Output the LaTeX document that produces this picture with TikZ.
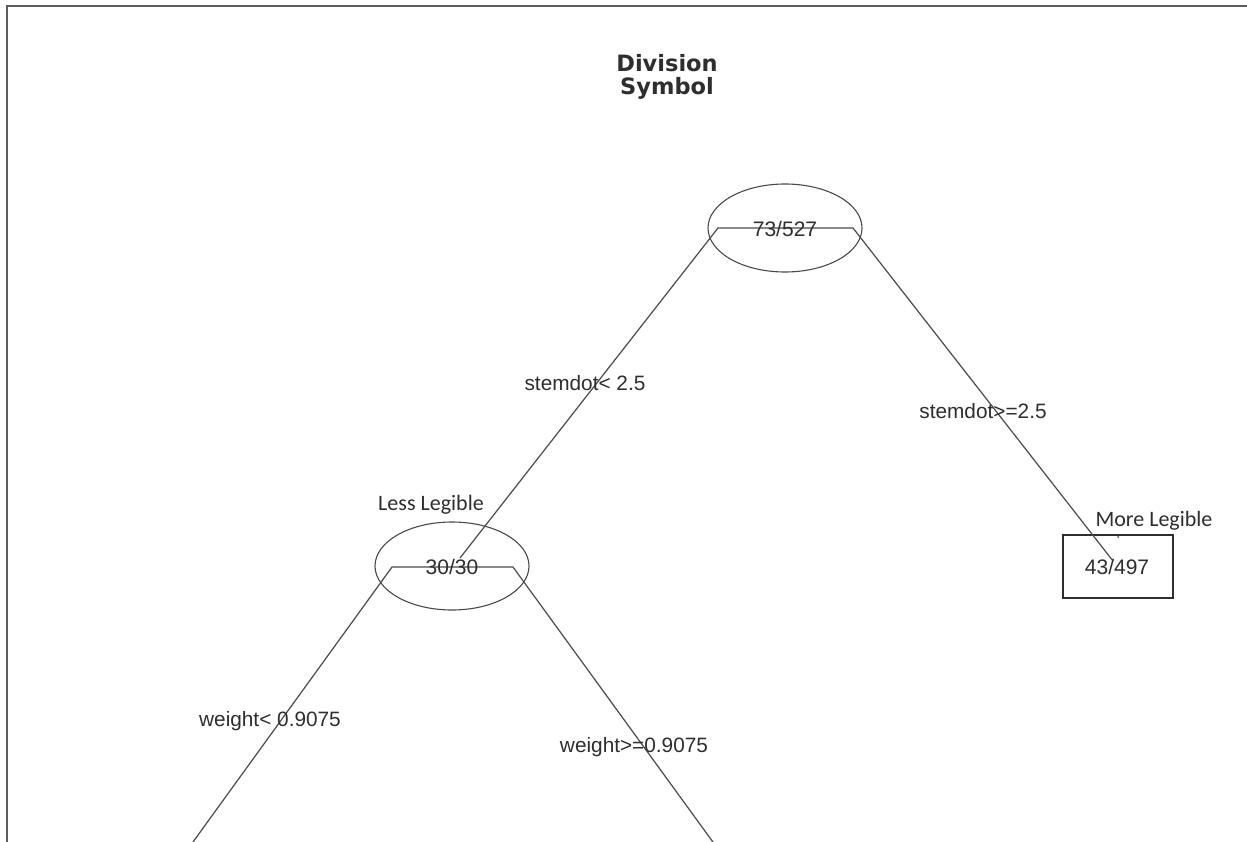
\documentclass[tikz,border=0pt]{standalone}
\usepackage{fontspec}
\setmainfont{Liberation Sans}
\newfontfamily\labfont{Carlito}
\newfontfamily\titlefont{DejaVu Sans}
\usetikzlibrary{shapes.geometric}
\definecolor{ink}{HTML}{2E2E2E}
\definecolor{wire}{HTML}{4A4A4A}
\definecolor{rim}{HTML}{5E5E5E}
\tikzset{
  wireline/.style={draw=wire, line width=1.2pt},
  splitnode/.style={ellipse, draw=wire, line width=1.1pt, minimum width=154pt, minimum height=88pt, inner sep=0pt},
  leafnode/.style={rectangle, draw=ink, line width=1.4pt, minimum width=110pt, minimum height=63pt, inner sep=0pt},
  countlabel/.style={text=ink, inner sep=0pt, font=\fontsize{21}{21}\selectfont},
  rulelabel/.style={text=ink, inner sep=0pt, font=\fontsize{20.8}{20.8}\selectfont},
  classlabel/.style={text=ink, inner sep=0pt, font=\labfont\fontsize{22}{22}\selectfont},
}
\begin{document}
\begin{tikzpicture}[x=1pt, y=-1pt]
\useasboundingbox (0,0) rectangle (1247,842);
\clip (0,0) rectangle (1247,842);
\fill[white] (0,0) rectangle (1247,842);
% outer frame (top and left edges)
\draw[rim, line width=1.6pt] (7,842) -- (7,6) -- (1247,6);

% title
\node[text=ink, align=center, inner sep=0pt, font=\titlefont\bfseries\fontsize{22.5}{22.5}\selectfont] (title) at (667,77) {Division\\Symbol};

% tree nodes
\node[splitnode] (root) at (785,228) {};
\node[splitnode] (less) at (452,566) {};
\node[leafnode]  (more) at (1118,566.5) {};

% split points and branch ends
\coordinate (rootL) at (718,228);
\coordinate (rootR) at (853,228);
\coordinate (lessIn) at (460,558);
\coordinate (moreIn) at (1113,561);
\coordinate (lessL) at (392,567);
\coordinate (lessR) at (513,567);
\coordinate (leafLL) at (172,871);
\coordinate (leafLR) at (734,871);

% branches
\draw[wireline] (lessIn) -- (rootL) -- (rootR) -- (moreIn);
\draw[wireline] (leafLL) -- (lessL) -- (lessR) -- (leafLR);
\fill[wire] (1118,537) circle (1pt);

% node counts
\node[countlabel] (rootn) at (root.center) [yshift=-1pt] {73/527};
\node[countlabel] (lessn) at (less.center) [yshift=-1pt] {30/30};
\node[countlabel] (moren) at (1117,567) {43/497};

% class labels
\node[classlabel] (lesslab) at (431,505) {Less Legible};
\node[classlabel] (morelab) at (1154,521) {More Legible};

% split rules
\node[rulelabel] (r1) at (585,383) {stemdot< 2.5};
\node[rulelabel] (r2) at (983,411) {stemdot>=2.5};
\node[rulelabel] (r3) at (270,721) {weight< 0.9075};
\node[rulelabel] (r4) at (634,747) {weight>=0.9075};
\end{tikzpicture}
\end{document}
